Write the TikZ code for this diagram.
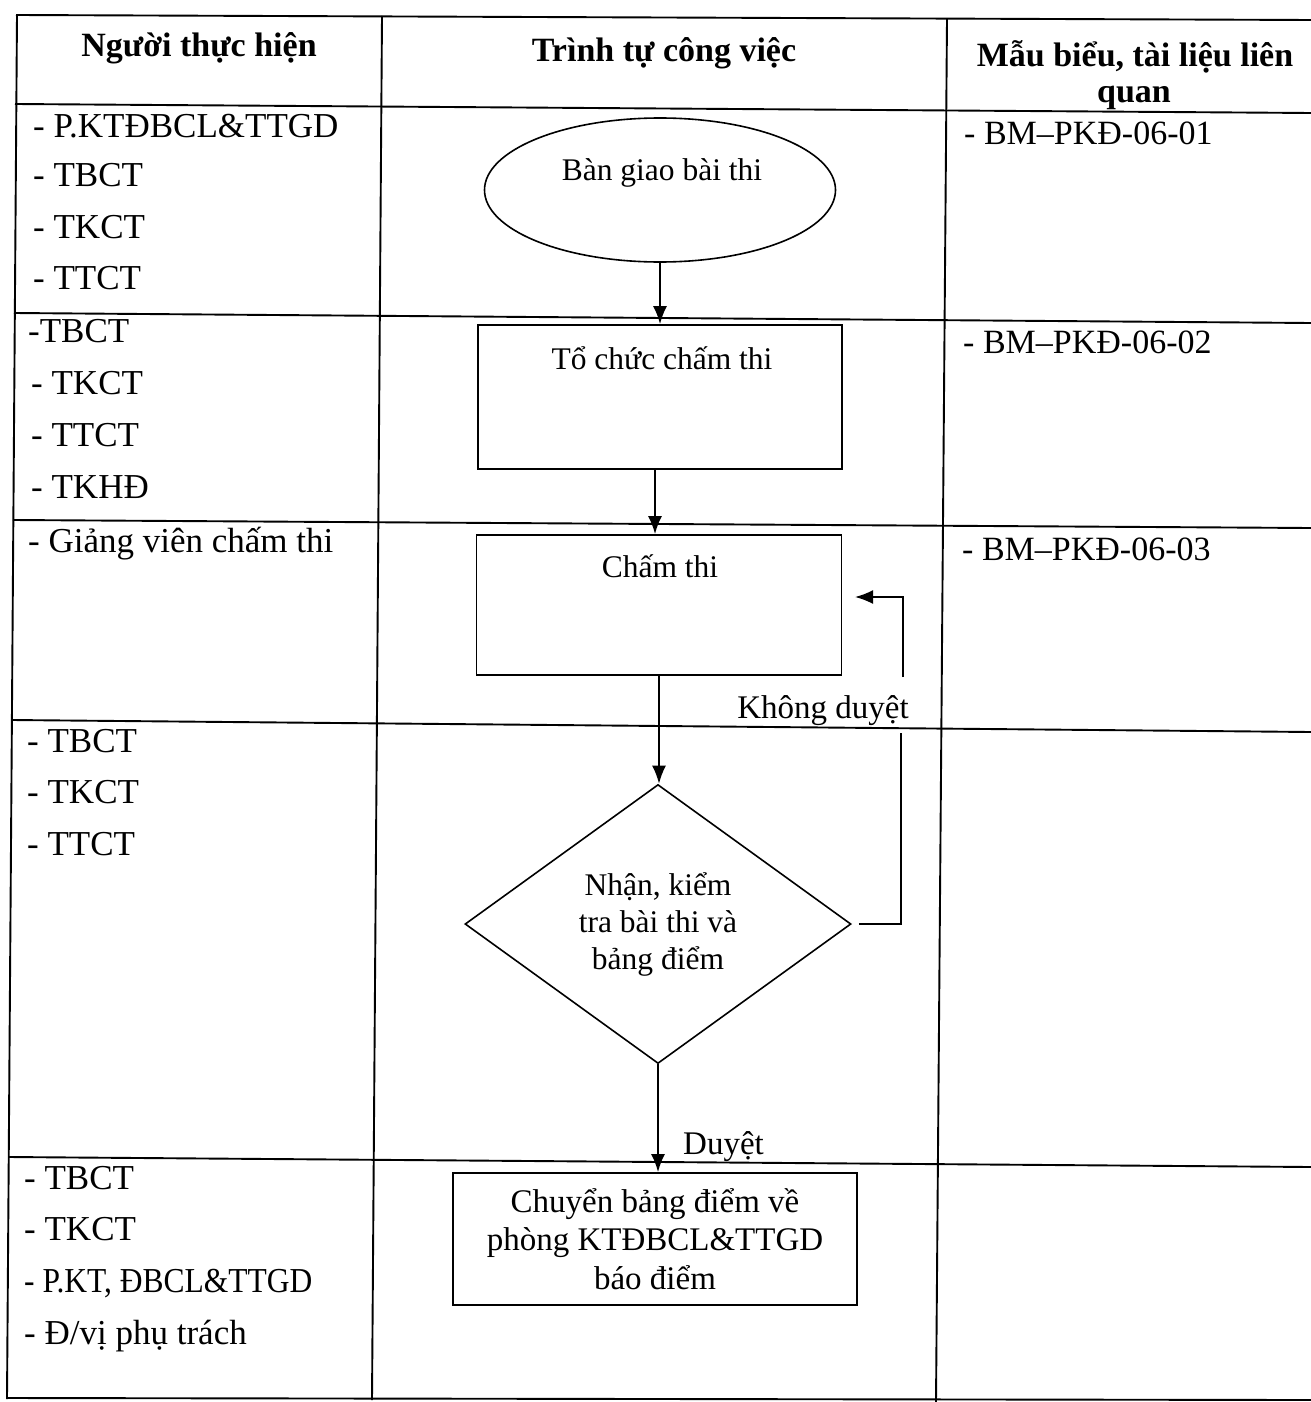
\documentclass[tikz,border=0pt]{standalone}
\usepackage{fontspec}
\setmainfont{Liberation Serif}
\usetikzlibrary{shapes.geometric,arrows.meta}
\begin{document}
\begin{tikzpicture}[x=1pt,y=-1pt,
  tbl/.style={line width=1.9pt},
  conn/.style={line width=1.8pt,-{Latex[length=18pt,width=14pt]}},
  plain/.style={line width=1.8pt},
  cell/.style={anchor=base west,inner sep=0pt,font=\fontsize{35}{42}\selectfont},
  rcell/.style={anchor=base west,inner sep=0pt,font=\fontsize{34}{40}\selectfont},
  hdr/.style={anchor=base,inner sep=0pt,font=\fontsize{34}{40}\selectfont\bfseries},
  ftext/.style={anchor=base,inner sep=0pt,font=\fontsize{31.5}{37}\selectfont},
  lbl/.style={anchor=base,inner sep=0pt,font=\fontsize{33}{38}\selectfont},
  box/.style={draw,line width=1.8pt,rectangle,inner sep=0pt},
]
\useasboundingbox[fill=white] (0,0) rectangle (1311,1402);

% ---------- flowchart ----------
\node[draw,ellipse,line width=1.6pt,minimum width=351pt,minimum height=144pt,inner sep=0pt] (start) at (660,190) {};
\node[ftext] (starttxt) at (662,180) {Bàn giao bài thi};

\node[box,minimum width=364pt,minimum height=144pt] (org) at (660,397) {};
\node[ftext] (orgtxt) at (662,369) {Tổ chức chấm thi};

\node[box,minimum width=365pt,minimum height=140pt] (grade) at (659,605) {};
\node[ftext] (gradetxt) at (660,577) {Chấm thi};

\node[draw,diamond,line width=1.6pt,minimum width=386pt,minimum height=279pt,inner sep=0pt,aspect=1.38,
      align=center,font=\fontsize{31.5}{37}\selectfont] (review) at (658,924) {Nhận, kiểm\\tra bài thi và\\bảng điểm};

\node[box,minimum width=404pt,minimum height=132pt,align=center,font=\fontsize{33}{38.5}\selectfont] (send) at (655,1239)
  {Chuyển bảng điểm về\\phòng KTĐBCL\&TTGD\\báo điểm};

\draw[conn] (start.south) -- (start.south |- org.north);
\draw[conn] ([xshift=-5pt]org.south) -- ([xshift=-5pt]org.south |- grade.north);
\draw[conn] (grade.south) -- (grade.south |- review.north);
\draw[conn] (review.south) -- (review.south |- send.north);

\coordinate (fbA) at (901,924);
\coordinate (fbB) at (901,733);
\coordinate (fbC) at (903,677);
\coordinate (fbD) at (903,597);
\coordinate (fbEnd) at (855,597);
\draw[plain] ([xshift=7pt]review.east) -- (fbA) -- (fbB);
\draw[conn] (fbC) -- (fbD) -- (fbEnd);
\node[lbl] (notok) at (823,718) {Không duyệt};
\node[lbl,anchor=base west] (ok) at (683,1154) {Duyệt};

% ---------- table ----------
\draw[tbl] (16,15) -- (1311,20);
\draw[tbl] (15,104) -- (1311,113);
\draw[tbl] (14,313) -- (1311,323);
\draw[tbl] (13,520) -- (1311,528);
\draw[tbl] (12,720) -- (1311,732);
\draw[tbl] (9,1157) -- (1311,1167);
\draw[tbl] (7,1398) -- (1311,1400);
\draw[tbl] (17,15) -- (7,1399);
\draw[tbl] (382,16) -- (372,1400);
\draw[tbl] (947,19) -- (936,1402);

% headers
\node[hdr] (h1) at (199,57) {Người thực hiện};
\node[hdr] (h2) at (664,62) {Trình tự công việc};
\node[hdr] (h3) at (1135,67) {Mẫu biểu, tài liệu liên};
\node[hdr] (h3b) at (1134,103) {quan};

% left column
\node[cell] (a1) at (33,137) {- P.KTĐBCL\&TTGD};
\node[cell] (a2) at (33,186) {- TBCT};
\node[cell] (a3) at (33,238) {- TKCT};
\node[cell] (a4) at (33,289) {- TTCT};
\node[cell] (b1) at (28,342) {-TBCT};
\node[cell] (b2) at (31,394) {- TKCT};
\node[cell] (b3) at (31,446) {- TTCT};
\node[cell] (b4) at (31,498) {- TKHĐ};
\node[cell] (c1) at (28,552) {- Giảng viên chấm thi};
\node[cell] (d1) at (27,752) {- TBCT};
\node[cell] (d2) at (27,803) {- TKCT};
\node[cell] (d3) at (27,855) {- TTCT};
\node[cell] (e1) at (24,1189) {- TBCT};
\node[cell] (e2) at (24,1240) {- TKCT};
\node[cell] (e3) at (24,1292) {\scalebox{0.9}[1]{- P.KT, ĐBCL\&TTGD}};
\node[cell] (e4) at (24,1344) {- Đ/vị phụ trách};

% right column
\node[rcell] (f1) at (964,145) {- BM–PKĐ-06-01};
\node[rcell] (f2) at (963,353) {- BM–PKĐ-06-02};
\node[rcell] (f3) at (962,560) {- BM–PKĐ-06-03};
\end{tikzpicture}
\end{document}
